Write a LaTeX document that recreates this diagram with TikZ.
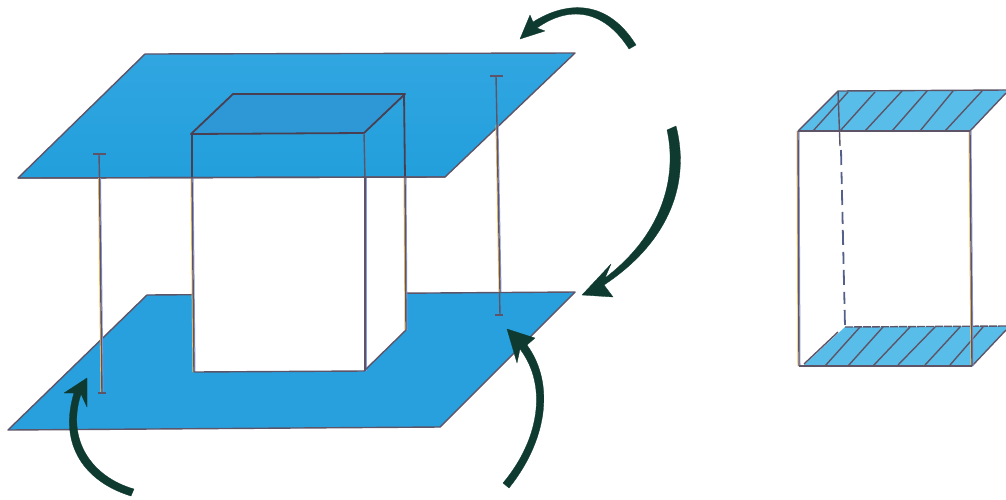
\documentclass[tikz,border=0pt]{standalone}
\definecolor{planeA}{HTML}{31A6E1}
\definecolor{planeAd}{HTML}{229FDC}
\definecolor{planeB}{HTML}{27A0DD}
\definecolor{faceC}{HTML}{2E98D6}
\definecolor{hatchF}{HTML}{58BEE9}
\definecolor{edgeC}{HTML}{5E5468}
\definecolor{darkE}{HTML}{4A3F50}
\definecolor{dashC}{HTML}{55608A}
\definecolor{arrowC}{HTML}{0F3A30}
\definecolor{fringeY}{HTML}{F2C25A}
\definecolor{fringeB}{HTML}{8A9AE0}
\newcommand{\fringeline}[2]{%
  \draw[fringeY,line width=1pt,xshift=-1pt] #1 -- #2;
  \draw[fringeB,line width=1pt,xshift=1pt] #1 -- #2;
  \draw[edgeS] #1 -- #2;}
\tikzset{
  x=1pt,y=-1pt,
  planeS/.style={draw=edgeC,line width=1.4pt,line join=round},
  edgeS/.style={draw=edgeC,line width=1.4pt},
  boldS/.style={draw=darkE,line width=1.8pt},
  hatchS/.style={draw=edgeC,line width=1.4pt},
  arrowS/.style={fill=arrowC,draw=arrowC,line width=0.3pt,line join=round}
}
\begin{document}
\begin{tikzpicture}
\useasboundingbox (0,0) rectangle (1006,499);
\fill[white] (0,0) rectangle (1006,499);
% bottom plane
\path[planeS,fill=planeB] (147,295) -- (575,292) -- (440,427) -- (8,430) -- cycle;
% top plane
\path[planeS,top color=planeA,bottom color=planeAd] (145,54) -- (575,53) -- (445,177) -- (18,178) -- cycle;
% box white part
\fill[white] (193,179) -- (406,179) -- (406,330) -- (364,371) -- (194,372) -- cycle;
% box top face
\path[fill=faceC] (233,94) -- (405,94) -- (364,133) -- (191,134) -- cycle;
\draw[boldS,line join=round] (233,94) -- (405,94) -- (364,133) -- (191,134) -- cycle;
% box edges
\draw[boldS] (192,134) -- (192,178);
\draw[edgeS] (364,133) -- (365,178);
\draw[boldS] (404,94) -- (405,178);
\fringeline{(192,178)}{(194,372)}
\fringeline{(365,178)}{(365,371)}
\fringeline{(405,178)}{(406,330)}
\draw[edgeS] (194,372) -- (364,371) -- (406,330);
% redraw plane front edge above the box
\draw[edgeS] (18,178) -- (445,177);
% verticals
\draw[edgeS] (99,154) -- (99.5,178);
\fringeline{(99.5,178)}{(102,393)}
\draw[edgeS] (93,154) -- (106,154);
\draw[edgeS] (98,393) -- (106,393);
\draw[edgeS] (496,76) -- (497,125);
\fringeline{(497,125)}{(500,292)}
\draw[edgeS] (499.5,292) -- (500,315);
\draw[edgeS] (490,76) -- (503,76);
\draw[edgeS] (495,315) -- (503,315);
% right solid: top face
\fill[hatchF] (838,91) -- (1006,90) -- (1006,93) -- (970,131) -- (798,131) -- cycle;
\draw[hatchS] (798,131) -- (838,91) -- (1006,90);
\draw[hatchS] (813,131) -- (848,92) (840,131) -- (875,92) (865,131) -- (902,91) (892,131) -- (927,91)
  (920,131) -- (953,91) (945,131) -- (982,91) (970,131) -- (1006,93);
% right solid: bottom face
\fill[hatchF] (845,327) -- (1006,326) -- (1006,330) -- (972,366) -- (803,366) -- cycle;
\draw[hatchS,dash pattern=on 8pt off 1pt] (845,327) -- (1006,326);
\draw[hatchS] (804,364) -- (838,332) (825,366) -- (860,327) (848,366) -- (883,327) (873,366) -- (910,327)
  (898,365) -- (935,327) (925,365) -- (960,327) (950,365) -- (983,327) (972,366) -- (1006,330);
% right solid: frame
\fringeline{(798,131)}{(799,366)}
\fringeline{(970,131)}{(972,366)}
\draw[edgeS] (798,131) -- (970,131) (799,366) -- (972,366);
\draw[edgeS] (838,91) -- (840,146);
\draw[dashC,dash pattern=on 15pt off 7pt on 12pt off 6pt,line width=1.8pt] (841,150) -- (845,327);
% arrows
\path[arrowS] (636,45) .. controls (608,0) and (568,0) .. (533,22) -- (530,15) -- (520,39) -- (545,31) -- (537,28)
  .. controls (568,6) and (603,8) .. (629,49) -- cycle;
\path[arrowS] (676,126) .. controls (690,180) and (672,240) .. (604,285) -- (613,297) -- (582,295) -- (611,264) -- (605,278)
  .. controls (668,230) and (676,170) .. (667,130) -- cycle;
\path[arrowS] (131,496) .. controls (85,482) and (58,445) .. (74,393) -- (64,393) -- (87,378) -- (87,407) -- (81,394)
  .. controls (66,440) and (92,477) .. (134,489) -- cycle;
\path[arrowS] (509,488) .. controls (546,442) and (556,385) .. (527,345) -- (535,338) -- (507,329) -- (517,363) -- (520,349)
  .. controls (548,386) and (539,440) .. (503,483) -- cycle;
\end{tikzpicture}
\end{document}
